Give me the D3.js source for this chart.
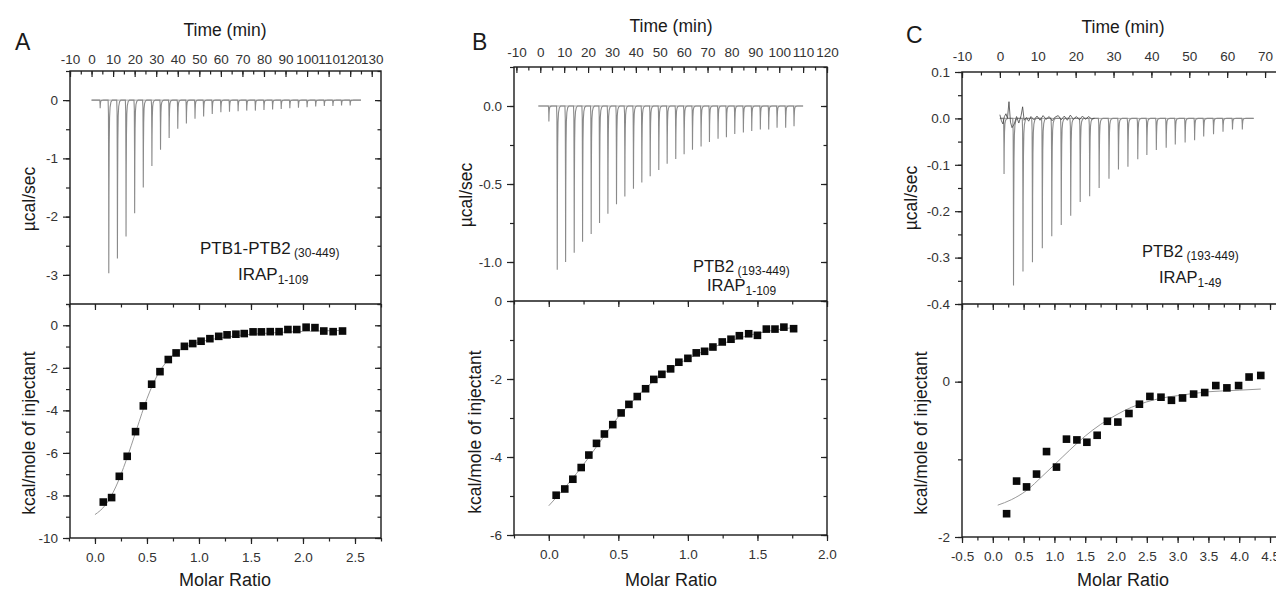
<!DOCTYPE html>
<html>
<head>
<meta charset="utf-8">
<script src="https://cdn.jsdelivr.net/npm/d3@7"></script>
<style>
body { margin: 0; background: #fff; }
svg { display: block; }
</style>
</head>
<body>
<script>
// ---- values ----

// A : PTB1-PTB2 (30-449) with IRAP 1-109
const injTimeA = [4, 8, 12, 16, 20, 24, 28, 32, 36, 40, 44, 48, 52, 56, 60, 64, 68, 72, 76, 80, 84, 88, 92, 96, 100, 104, 108, 112, 116, 120];
const heatRateA = [-0.14, -2.97, -2.72, -2.34, -1.94, -1.50, -1.13, -0.85, -0.65, -0.49, -0.40, -0.32, -0.28, -0.24, -0.21, -0.20, -0.19, -0.18, -0.18, -0.17, -0.16, -0.15, -0.14, -0.13, -0.12, -0.11, -0.10, -0.10, -0.09, -0.09];
const molarA = [0.08, 0.16, 0.234, 0.31, 0.39, 0.465, 0.545, 0.625, 0.705, 0.78, 0.86, 0.94, 1.02, 1.105, 1.19, 1.27, 1.355, 1.435, 1.52, 1.60, 1.685, 1.77, 1.855, 1.94, 2.03, 2.115, 2.20, 2.29, 2.38];
const enthalpyA = [-8.31, -8.10, -7.10, -6.16, -5.00, -3.79, -2.77, -2.18, -1.61, -1.30, -0.99, -0.86, -0.75, -0.63, -0.52, -0.45, -0.42, -0.39, -0.31, -0.31, -0.30, -0.30, -0.20, -0.20, -0.09, -0.11, -0.27, -0.30, -0.27];
const fitMolarA = [0.0, 0.1, 0.2, 0.3, 0.4, 0.5, 0.6, 0.7, 0.8, 0.9, 1.0, 1.2, 1.4, 1.6, 1.8, 2.0, 2.2, 2.4];
const fitHeatA = [-8.9, -8.45, -7.6, -6.35, -4.9, -3.45, -2.35, -1.65, -1.22, -0.96, -0.8, -0.6, -0.47, -0.39, -0.33, -0.29, -0.26, -0.24];

// B : PTB2 (193-449) with IRAP 1-109
const injTimeB = [3.6, 7.1, 10.6, 14.2, 17.7, 21.3, 24.8, 28.3, 31.9, 35.4, 39.0, 42.5, 46.0, 49.6, 53.1, 56.7, 60.2, 63.7, 67.3, 70.8, 74.4, 77.9, 81.4, 85.0, 88.5, 92.1, 95.6, 99.1, 102.7, 106.2];
const heatRateB = [-0.10, -1.05, -1.00, -0.94, -0.87, -0.82, -0.75, -0.69, -0.63, -0.58, -0.53, -0.49, -0.45, -0.41, -0.37, -0.34, -0.31, -0.28, -0.26, -0.23, -0.21, -0.20, -0.18, -0.17, -0.16, -0.15, -0.15, -0.14, -0.14, -0.13];
const molarB = [0.053, 0.115, 0.173, 0.233, 0.288, 0.343, 0.40, 0.46, 0.52, 0.576, 0.636, 0.696, 0.755, 0.813, 0.876, 0.935, 1.0, 1.06, 1.12, 1.18, 1.247, 1.31, 1.37, 1.437, 1.50, 1.564, 1.626, 1.69, 1.76];
const enthalpyB = [-4.98, -4.82, -4.57, -4.27, -3.95, -3.65, -3.41, -3.17, -2.87, -2.65, -2.45, -2.25, -2.01, -1.88, -1.74, -1.57, -1.47, -1.33, -1.29, -1.18, -1.05, -0.98, -0.89, -0.84, -0.88, -0.72, -0.72, -0.67, -0.71];
const fitMolarB = [0.0, 0.1, 0.2, 0.3, 0.4, 0.5, 0.6, 0.7, 0.8, 0.9, 1.0, 1.1, 1.2, 1.3, 1.4, 1.5, 1.6, 1.76];
const fitHeatB = [-5.25, -4.85, -4.42, -3.95, -3.45, -2.97, -2.58, -2.22, -1.92, -1.68, -1.48, -1.31, -1.16, -1.03, -0.92, -0.83, -0.76, -0.68];

// C : PTB2 (193-449) with IRAP 1-49
const injTimeC = [1.1, 3.6, 6.1, 8.6, 11.2, 13.7, 16.2, 18.7, 21.2, 23.7, 26.2, 28.8, 31.3, 33.8, 36.4, 38.8, 41.3, 43.9, 46.3, 48.9, 51.4, 53.8, 56.4, 58.9, 61.4, 64.0];
const heatRateC = [-0.12, -0.36, -0.33, -0.31, -0.28, -0.254, -0.23, -0.21, -0.18, -0.168, -0.15, -0.13, -0.11, -0.104, -0.088, -0.079, -0.068, -0.063, -0.056, -0.052, -0.047, -0.039, -0.034, -0.029, -0.024, -0.024];
const noiseTimeC = [0.0, 0.4, 0.8, 1.2, 1.6, 2.0, 2.4, 2.8, 3.2, 3.8, 4.4, 5.0, 5.6, 6.0, 6.4, 7.0, 7.6, 8.2, 9.0, 9.8, 10.6, 11.4, 12.2, 13.0, 13.8, 14.6, 15.4, 16.2, 17.0, 17.8, 18.6, 19.4, 20.2, 21.0, 21.8, 22.6, 23.4, 24.2, 25.0];
const noiseRateC = [0.008, -0.005, -0.012, 0.004, 0.010, 0.0, 0.036, -0.008, -0.020, -0.012, 0.004, -0.010, 0.006, 0.025, -0.004, 0.002, -0.006, 0.004, -0.003, 0.005, -0.004, 0.006, -0.002, 0.004, -0.005, 0.003, 0.006, -0.003, 0.005, -0.004, 0.007, -0.002, 0.004, -0.003, 0.005, -0.002, 0.004, -0.001, 0.0];
const molarC = [0.224, 0.386, 0.548, 0.71, 0.872, 1.034, 1.196, 1.365, 1.527, 1.694, 1.86, 2.03, 2.21, 2.38, 2.55, 2.73, 2.90, 3.08, 3.26, 3.44, 3.62, 3.80, 3.99, 4.16, 4.35];
const enthalpyC = [-1.70, -1.28, -1.355, -1.19, -0.90, -1.10, -0.74, -0.75, -0.78, -0.69, -0.51, -0.52, -0.41, -0.29, -0.19, -0.20, -0.24, -0.21, -0.16, -0.14, -0.05, -0.08, -0.05, 0.06, 0.08];
const fitMolarC = [0.08, 0.3, 0.55, 0.8, 1.0, 1.25, 1.5, 1.75, 2.0, 2.25, 2.5, 2.75, 3.0, 3.5, 4.0, 4.35];
const fitHeatC = [-1.59, -1.52, -1.40, -1.22, -1.07, -0.88, -0.70, -0.55, -0.43, -0.33, -0.26, -0.21, -0.18, -0.13, -0.11, -0.095];

// labelled tick values
const timeTicksA = [-10, 0, 10, 20, 30, 40, 50, 60, 70, 80, 90, 100, 110, 120, 130];
const timeTicksB = [-10, 0, 10, 20, 30, 40, 50, 60, 70, 80, 90, 100, 110, 120];
const timeTicksC = [-10, 0, 10, 20, 30, 40, 50, 60, 70];
const rateTicksA = [-3, -2, -1, 0];
const rateTicksB = [-1.0, -0.5, 0.0];
const rateTicksC = [-0.4, -0.3, -0.2, -0.1, 0.0, 0.1];
const heatTicksA = [-10, -8, -6, -4, -2, 0];
const heatTicksB = [-6, -4, -2, 0];
const heatTicksC = [-2, 0];
const molarTicksA = [0.0, 0.5, 1.0, 1.5, 2.0, 2.5];
const molarTicksB = [0.0, 0.5, 1.0, 1.5, 2.0];
const molarTicksC = [-0.5, 0.0, 0.5, 1.0, 1.5, 2.0, 2.5, 3.0, 3.5, 4.0, 4.5];

// ---- drawing ----
const FONT = '"Liberation Sans", Arial, Helvetica, sans-serif';
const svg = d3.select("body").append("svg")
  .attr("width", 1276).attr("height", 589)
  .style("font-family", FONT);
svg.append("rect").attr("width", 1276).attr("height", 589).attr("fill", "#fff");

// one injection peak: [offset in injection intervals, share of the peak depth]
const spikeShape = [[-0.08, 0], [-0.04, 0.08], [-0.015, 0.45], [0, 1], [0.02, 0.55], [0.05, 0.25], [0.09, 0.1], [0.15, 0.04], [0.25, 0.01], [0.4, 0]];

function steps(a, b, s) {
  return d3.range(Math.round(a / s), Math.round(b / s) + 1).map(i => +(i * s).toFixed(4));
}

function addAxis(g, fn, scale, values, size, pad, fmt, tx, ty) {
  const ax = fn(scale).tickValues(values).tickSize(size).tickPadding(pad)
    .tickFormat(fmt || (() => ""));
  const a = g.append("g").attr("transform", `translate(${tx},${ty})`).call(ax)
    .attr("font-family", FONT).attr("font-size", 13.5);
  a.select(".domain").remove();
  a.selectAll("line").attr("stroke", "#222").attr("stroke-width", 1.2);
  a.selectAll("text").attr("fill", "#333");
  return a;
}

function drawPanel(p) {
  const g = svg.append("g");
  const xt = d3.scaleLinear().domain(p.timeDomain).range([p.left, p.right]);
  const yt = d3.scaleLinear().domain(p.rateDomain).range([p.mid, p.top]);
  const xm = d3.scaleLinear().domain(p.molarDomain).range([p.left, p.right]);
  const ym = d3.scaleLinear().domain(p.heatDomain).range([p.bottom, p.mid]);

  // raw heat trace
  const trace = [[p.baseStart, 0]];
  p.injTime.forEach((t, i) => {
    spikeShape.forEach(([f, d]) => trace.push([t + f * p.interval, d * p.rate[i]]));
  });
  trace.push([p.baseEnd, 0]);
  const lineT = d3.line().x(d => xt(d[0])).y(d => yt(d[1]));
  g.append("path").datum([[p.baseStart, 0], [p.baseEnd, 0]]).attr("d", lineT)
    .attr("fill", "none").attr("stroke", "#aaa").attr("stroke-width", 1);
  g.append("path").datum(trace).attr("d", lineT)
    .attr("fill", "none").attr("stroke", "#8a8a8a").attr("stroke-width", 1.1);
  if (p.noiseTime) {
    g.append("path").datum(p.noiseTime.map((t, i) => [t, p.noiseRate[i]])).attr("d", lineT)
      .attr("fill", "none").attr("stroke", "#444").attr("stroke-width", 0.8);
  }

  // integrated heats with fit
  g.append("path").datum(p.fitX.map((x, i) => [x, p.fitY[i]]))
    .attr("d", d3.line().curve(d3.curveMonotoneX).x(d => xm(d[0])).y(d => ym(d[1])))
    .attr("fill", "none").attr("stroke", "#999").attr("stroke-width", 1);
  g.selectAll("rect.pt").data(p.molar.map((x, i) => [x, p.heat[i]])).join("rect")
    .attr("class", "pt")
    .attr("x", d => xm(d[0]) - 3.8).attr("y", d => ym(d[1]) - 3.8)
    .attr("width", 7.6).attr("height", 7.6).attr("fill", "#0a0a0a");

  // frame
  g.append("rect").attr("x", p.left).attr("y", p.top)
    .attr("width", p.right - p.left).attr("height", p.bottom - p.top)
    .attr("fill", "none").attr("stroke", "#1a1a1a").attr("stroke-width", 1.4);
  g.append("line").attr("x1", p.left).attr("x2", p.right).attr("y1", p.mid).attr("y2", p.mid)
    .attr("stroke", "#1a1a1a").attr("stroke-width", 1.4);

  // time axis (top)
  addAxis(g, d3.axisTop, xt, steps(p.timeMinor[0], p.timeMinor[1], 5), -3.5, 0, null, 0, p.top);
  addAxis(g, d3.axisTop, xt, p.timeTicks, -6, p.topPad, d => String(d), 0, p.top);
  // rate axis
  addAxis(g, d3.axisLeft, yt, steps(p.rateDomain[0], p.rateDomain[1], p.rateMinor), 4, 0, null, p.left, 0);
  addAxis(g, d3.axisLeft, yt, p.rateTicks, 7, 5, p.rateFmt, p.left, 0);
  addAxis(g, d3.axisRight, yt, steps(p.rateDomain[0], p.rateDomain[1], p.rateMinor), -3.5, 0, null, p.right, 0);
  addAxis(g, d3.axisRight, yt, p.rateTicks, -6, 0, null, p.right, 0);
  // heat axis
  addAxis(g, d3.axisLeft, ym, steps(p.heatDomain[0], p.heatDomain[1], 1), 4, 0, null, p.left, 0);
  addAxis(g, d3.axisLeft, ym, p.heatTicks, 7, 5, d => String(d), p.left, 0);
  addAxis(g, d3.axisRight, ym, steps(p.heatDomain[0], p.heatDomain[1], 1), -3.5, 0, null, p.right, 0);
  addAxis(g, d3.axisRight, ym, p.heatTicks, -6, 0, null, p.right, 0);
  // molar axis
  const mMinor = steps(p.molarDomain[0], p.molarDomain[1], 0.25);
  addAxis(g, d3.axisBottom, xm, mMinor, 3.5, 0, null, 0, p.bottom);
  addAxis(g, d3.axisBottom, xm, p.molarTicks, 6, 8, d => d.toFixed(1), 0, p.bottom);
  addAxis(g, d3.axisTop, xm, mMinor, -3.5, 0, null, 0, p.mid);
  addAxis(g, d3.axisTop, xm, p.molarTicks, -6, 0, null, 0, p.mid);

  // titles
  const t = (x, y, s, size, extra) => {
    const e = g.append("text").attr("x", x).attr("y", y).text(s)
      .attr("font-size", size).attr("fill", "#1a1a1a");
    if (extra) extra(e);
    return e;
  };
  t(p.letter[0], p.letter[1], p.name, 23);
  t(p.timeTitle[0], p.timeTitle[1], "Time (min)", 17.5, e => e.attr("text-anchor", "middle"));
  t(p.molarTitle[0], p.molarTitle[1], "Molar Ratio", 18, e => e.attr("text-anchor", "middle"));
  g.append("text").attr("transform", `translate(${p.rateTitle[0]},${p.rateTitle[1]}) rotate(-90)`)
    .attr("text-anchor", "middle").attr("font-size", 17.5).attr("fill", "#1a1a1a").text("µcal/sec");
  g.append("text").attr("transform", `translate(${p.heatTitle[0]},${p.heatTitle[1]}) rotate(-90)`)
    .attr("text-anchor", "middle").attr("font-size", 17.5).attr("fill", "#1a1a1a").text("kcal/mole of injectant");

  // sample labels
  const l1 = t(p.label1[0], p.label1[1], null, p.labelSize);
  l1.append("tspan").text(p.protein);
  l1.append("tspan").attr("font-size", 12).attr("dy", 3).text(" " + p.proteinSub);
  const l2 = t(p.label2[0], p.label2[1], null, p.labelSize);
  l2.append("tspan").text("IRAP");
  l2.append("tspan").attr("font-size", 12).attr("dy", 4).text(p.peptideSub);
}

const panels = [
  {
    name: "A", left: 70, right: 381, top: 71, mid: 304, bottom: 538,
    timeDomain: [-10, 134.3], timeMinor: [-10, 130], timeTicks: timeTicksA, topPad: 7,
    rateDomain: [-3.5, 0.5], rateMinor: 0.5, rateTicks: rateTicksA, rateFmt: d => String(d),
    heatDomain: [-10, 1], heatTicks: heatTicksA,
    molarDomain: [-0.24, 2.75], molarTicks: molarTicksA,
    injTime: injTimeA, rate: heatRateA, interval: 4, baseStart: 0, baseEnd: 125,
    molar: molarA, heat: enthalpyA, fitX: fitMolarA, fitY: fitHeatA,
    letter: [15, 50], timeTitle: [225, 36], molarTitle: [225, 586],
    rateTitle: [35, 199], heatTitle: [35, 433],
    label1: [200, 254], label2: [238, 280], labelSize: 17,
    protein: "PTB1-PTB2", proteinSub: "(30-449)", peptideSub: "1-109"
  },
  {
    name: "B", left: 514, right: 827, top: 67, mid: 301, bottom: 535,
    timeDomain: [-11, 120], timeMinor: [-10, 120], timeTicks: timeTicksB, topPad: 10,
    rateDomain: [-1.25, 0.25], rateMinor: 0.25, rateTicks: rateTicksB, rateFmt: d => d.toFixed(1),
    heatDomain: [-6, 0], heatTicks: heatTicksB,
    molarDomain: [-0.25, 2.0], molarTicks: molarTicksB,
    injTime: injTimeB, rate: heatRateB, interval: 3.54, baseStart: -0.8, baseEnd: 110,
    molar: molarB, heat: enthalpyB, fitX: fitMolarB, fitY: fitHeatB,
    letter: [472, 50], timeTitle: [671, 32], molarTitle: [671, 586],
    rateTitle: [472, 195], heatTitle: [481, 432],
    label1: [693, 272], label2: [707, 291], labelSize: 16.5,
    protein: "PTB2", proteinSub: "(193-449)", peptideSub: "1-109"
  },
  {
    name: "C", left: 962, right: 1284, top: 72, mid: 304, bottom: 537,
    timeDomain: [-10, 75], timeMinor: [-10, 75], timeTicks: timeTicksC, topPad: 11,
    rateDomain: [-0.4, 0.1], rateMinor: 0.05, rateTicks: rateTicksC, rateFmt: d => d.toFixed(1),
    heatDomain: [-2, 1], heatTicks: heatTicksC,
    molarDomain: [-0.5, 4.727], molarTicks: molarTicksC,
    injTime: injTimeC, rate: heatRateC, interval: 2.5, baseStart: 0, baseEnd: 67,
    noiseTime: noiseTimeC, noiseRate: noiseRateC,
    molar: molarC, heat: enthalpyC, fitX: fitMolarC, fitY: fitHeatC,
    letter: [906, 43], timeTitle: [1123, 33], molarTitle: [1123, 586],
    rateTitle: [917, 198], heatTitle: [927, 433],
    label1: [1142, 257], label2: [1159, 283], labelSize: 16.5,
    protein: "PTB2", proteinSub: "(193-449)", peptideSub: "1-49"
  }
];

panels.forEach(drawPanel);
</script>
</body>
</html>
